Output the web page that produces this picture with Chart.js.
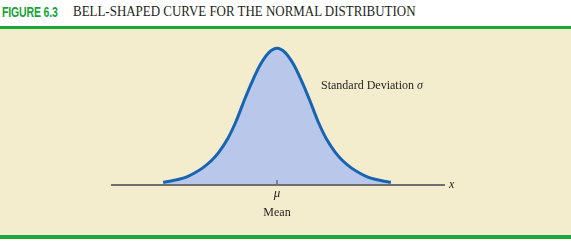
<!DOCTYPE html>
<html>
<head>
<meta charset="utf-8">
<script src="https://cdn.jsdelivr.net/npm/chart.js@4"></script>
<style>
  html, body { margin: 0; padding: 0; }
  body { width: 571px; height: 244px; position: relative; overflow: hidden; background: #fff; }
  .band { position: absolute; left: 0; width: 571px; }
  .txt { position: absolute; line-height: 1; white-space: nowrap; color: #231f20; font-family: 'Liberation Serif', 'Times New Roman', serif; }
  #chartBox { position: absolute; left: 0; top: 0; width: 571px; height: 244px; }
</style>
</head>
<body>
<div class="band" style="top:26px;height:3px;background:#1aa83a"></div>
<div class="band" style="top:29px;height:206px;background:#f3edce"></div>
<div class="band" style="top:235px;height:4px;background:#1aa83a"></div>

<div class="txt" style="left:2px;top:4px;font-family:'Liberation Sans',sans-serif;font-weight:bold;font-size:15px;color:#1aa33a;transform:scaleX(0.7);transform-origin:0 0;letter-spacing:-0.2px">FIGURE 6.3</div>
<div class="txt" style="left:73px;top:5px;font-size:14px;transform:scaleX(0.925);transform-origin:0 0">BELL-SHAPED CURVE FOR THE NORMAL DISTRIBUTION</div>

<div id="chartBox"><canvas id="bell"></canvas></div>

<div class="txt" style="left:321px;top:79px;font-size:12px">Standard Deviation <i>σ</i></div>
<div class="txt" style="left:277px;top:186px;font-size:13px;transform:translateX(-50%)"><i>μ</i></div>
<div class="txt" style="left:277px;top:206px;font-size:12px;transform:translateX(-50%)">Mean</div>
<div class="txt" style="left:449px;top:178px;font-size:12px"><i>x</i></div>

<script>
// curve: x in standard deviations from the mean, y = density
const zValues = [-3.45, -3.25, -3.0, -2.75, -2.5, -2.25, -2.0, -1.76, -1.5, -1.24, -1.0, -0.76, -0.5, -0.24, 0,
                 0.24, 0.5, 0.76, 1.0, 1.24, 1.5, 1.76, 2.0, 2.25, 2.5, 2.75, 3.0, 3.25, 3.45];
const density = [0.008, 0.011, 0.016, 0.023, 0.035, 0.050, 0.070, 0.096, 0.134, 0.186, 0.245, 0.300, 0.352, 0.387, 0.399,
                 0.387, 0.352, 0.300, 0.245, 0.186, 0.134, 0.096, 0.070, 0.050, 0.035, 0.023, 0.016, 0.011, 0.008];
// horizontal axis runs past the curve on both sides
const axisRange = [-5.03, 5.09];
const meanValue = 0;

const curvePts = zValues.map((z, i) => ({ x: z, y: density[i] }));
const axisPts = axisRange.map(v => ({ x: v, y: 0 }));

// small tick above the axis at the mean
const meanTick = {
  id: 'meanTick',
  afterDatasetsDraw(chart) {
    const ctx = chart.ctx;
    const x = chart.scales.x.getPixelForValue(meanValue);
    const y = chart.scales.y.getPixelForValue(0);
    ctx.save();
    ctx.strokeStyle = '#6b6b6b';
    ctx.lineWidth = 1.5;
    ctx.beginPath();
    ctx.moveTo(x, y);
    ctx.lineTo(x, y - 5);
    ctx.stroke();
    ctx.restore();
  }
};

const bell = document.getElementById('bell');

new Chart(bell, {
  type: 'line',
  data: {
    datasets: [{
      data: axisPts,
      borderColor: '#707070',
      borderWidth: 1.8,
      pointRadius: 0,
      fill: false,
      clip: false,
      order: 0
    }, {
      data: curvePts,
      borderColor: '#1664b2',
      backgroundColor: '#b9c7ea',
      borderWidth: 3,
      pointRadius: 0,
      cubicInterpolationMode: 'monotone',
      fill: 'origin',
      clip: false,
      order: 1
    }]
  },
  options: {
    responsive: true,
    maintainAspectRatio: false,
    animation: false,
    layout: {
      padding: { left: 111, right: 126, top: 41, bottom: 59 }
    },
    plugins: {
      legend: { display: false },
      tooltip: { enabled: false }
    },
    scales: {
      x: { type: 'linear', min: axisRange[0], max: axisRange[1], display: false },
      y: { min: 0, max: 0.42, display: false }
    }
  },
  plugins: [meanTick]
});
</script>
</body>
</html>
